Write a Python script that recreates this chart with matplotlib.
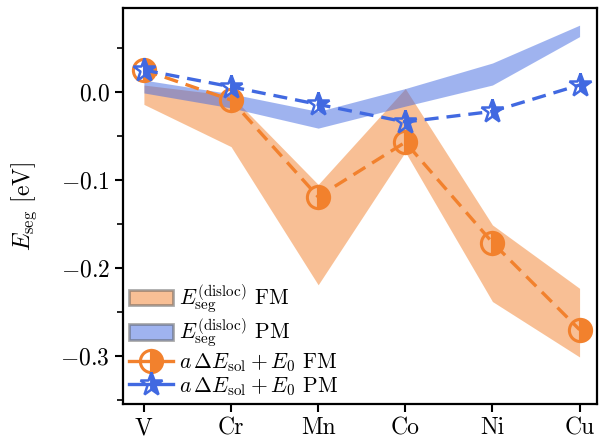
import numpy as np
import matplotlib
matplotlib.use("Agg")
import matplotlib.pyplot as plt
from matplotlib.patches import Patch
from matplotlib.lines import Line2D

plt.rcParams['font.family'] = 'serif'
plt.rcParams['font.serif'] = ['cmr10']
plt.rcParams['mathtext.fontset'] = 'cm'
plt.rcParams['axes.formatter.use_mathtext'] = True
plt.rcParams['axes.unicode_minus'] = True

elements = ['V', 'Cr', 'Mn', 'Co', 'Ni', 'Cu']

# band of dislocation segregation energies (eV)
fm_upper = [0.008, -0.004, -0.105, 0.004, -0.151, -0.223]
fm_lower = [-0.014, -0.062, -0.219, -0.068, -0.238, -0.301]
pm_upper = [0.0136, -0.002, -0.022, 0.004, 0.033, 0.076]
pm_lower = [-0.001, -0.018, -0.041, -0.016, 0.008, 0.063]

# linear model a*dE_sol + E0
fm_model = [0.025, -0.009, -0.119, -0.057, -0.171, -0.270]
pm_model = [0.025, 0.006, -0.014, -0.034, -0.022, 0.008]

orange = '#F2812D'
blue = '#4169E1'
dash = (0, (4.2, 2.4))

fig, ax = plt.subplots(figsize=(6.0, 4.45), dpi=100)
fig.subplots_adjust(left=0.205, right=0.995, bottom=0.092, top=0.982)

x = np.arange(len(elements))
ax.fill_between(x, fm_lower, fm_upper, color=orange, alpha=0.5, lw=0)
ax.fill_between(x, pm_lower, pm_upper, color=blue, alpha=0.5, lw=0)

ax.plot(x, fm_model, ls=dash, lw=2.4, color=orange,
        marker='o', ms=16, mew=2.2, fillstyle='right',
        markerfacecoloralt='none', mec=orange, mfc=orange)
ax.plot(x, pm_model, ls=dash, lw=2.4, color=blue,
        marker='*', ms=17, mew=1.8, fillstyle='right',
        markerfacecoloralt='none', mec=blue, mfc=blue)

ax.set_xticks(x)
ax.set_xticklabels(elements)
ax.set_xlim(-0.24, 5.2)
ax.set_ylim(-0.3545, 0.0955)
ax.set_yticks([-0.3, -0.2, -0.1, 0.0])
ax.set_yticks(np.arange(-0.35, 0.1, 0.05), minor=True)
ax.set_yticklabels(['$-0.3$', '$-0.2$', '$-0.1$', '$0.0$'])
ax.tick_params(labelsize=17, width=1.5, length=6)
ax.tick_params(which='minor', width=1.2, length=4)
ax.set_ylabel(r'$E_\mathrm{seg}$ [eV]', fontsize=17)
ax.yaxis.set_label_coords(-0.177, 0.5)
for s in ax.spines.values():
    s.set_linewidth(1.6)

handles = [
    Patch(facecolor=orange, alpha=0.5, edgecolor='#555555', lw=2),
    Patch(facecolor=blue, alpha=0.5, edgecolor='#555555', lw=2),
    Line2D([], [], color=orange, lw=2.4, marker='o', ms=16, mew=2.2,
           fillstyle='right', markerfacecoloralt='none', mec=orange),
    Line2D([], [], color=blue, lw=2.4, marker='*', ms=17, mew=1.8,
           fillstyle='right', markerfacecoloralt='none', mec=blue),
]
labels = [
    r'$E_\mathrm{seg}^\mathrm{(disloc)}$ FM',
    r'$E_\mathrm{seg}^\mathrm{(disloc)}$ PM',
    r'$a\,\Delta E_\mathrm{sol} + E_0$ FM',
    r'$a\,\Delta E_\mathrm{sol} + E_0$ PM',
]
ax.legend(handles, labels, loc='lower left', fontsize=15.5, frameon=False,
          handlelength=2.0, handletextpad=0.3, labelspacing=0.05,
          borderpad=0.2, borderaxespad=0.1)

fig.savefig('out.png', dpi=100)
